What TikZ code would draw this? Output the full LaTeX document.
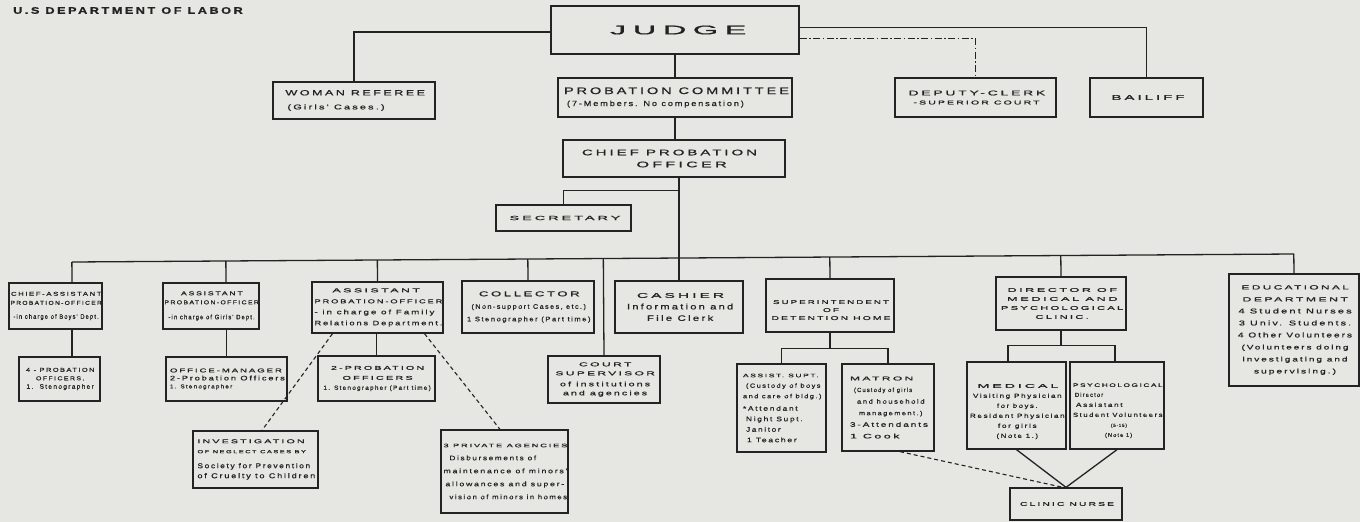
\documentclass[tikz,border=0pt]{standalone}
\usepackage{fontspec}
\setmainfont{Liberation Sans}
\newfontfamily\spf[LetterSpace=20,FakeBold=0.8]{Liberation Sans}
\usepackage{graphicx}
\usetikzlibrary{calc}
\definecolor{paper}{RGB}{230,230,227}
\definecolor{ink}{RGB}{35,35,35}
\newcommand\W[3]{\resizebox{#1pt}{\height}{\spf\fontsize{#2}{#2}\selectfont #3\kern-.2em}}
\begin{document}
\begin{tikzpicture}[x=1pt,y=-1pt,
  box/.style={draw=ink, line width=1.3pt, inner sep=0pt, text=ink, align=center},
  wh/.style n args={2}{minimum width=#1pt, minimum height=#2pt},
  lp/.style={font=\fontsize{6}{#1}\selectfont},
  conn/.style={draw=ink, line width=1.3pt},
  dsh/.style={draw=ink, line width=1.1pt, dash pattern=on 4pt off 3pt},
  dashdot/.style={dash pattern=on 7pt off 2.5pt on 1.5pt off 2.5pt}]
\fill[paper] (0,0) rectangle (1360,522);
\useasboundingbox (0,0) rectangle (1360,522);

\node[anchor=west, inner sep=0pt, text=ink] (title) at (13,10.5) {\W{227}{9.5}{\bfseries U.S DEPARTMENT OF LABOR}};

% top level
\node[box, wh={248}{48}] (judge) at (675,30) {\W{130}{12.5}{JUDGE}};
\node[box, wh={162}{37}, lp=14, align=left] (woman) at (354,100.5) {\W{137}{7.5}{WOMAN REFEREE}\\\hspace*{2pt}\W{95}{7}{(Girls' Cases.)}};
\node[box, wh={234}{39}, lp=12, align=left] (committee) at (675,97.5) {\W{222}{9.5}{PROBATION COMMITTEE}\\\hspace*{3pt}\W{175}{7.5}{(7-Members. No compensation)}};
\node[box, wh={161}{39}, lp=9] (deputy) at (975.5,97.5) {\W{134}{7}{DEPUTY-CLERK}\\\W{124}{5.5}{-SUPERIOR COURT}};
\node[box, wh={113}{39}] (bailiff) at (1146.5,97.5) {\W{70}{7}{BAILIFF}};
\node[box, wh={222}{37}, lp=12] (cpo) at (674,158.5) {\hspace*{-12pt}\W{172}{8}{CHIEF PROBATION}\\\hspace*{12pt}\W{87}{8}{OFFICER}};
\node[box, wh={135}{26}] (secretary) at (563.5,218) {\W{108}{6}{SECRETARY}};

% second level
\node[box, wh={93}{46}, lp=9] (chiefasst) at (55.5,306) {\W{89}{5.5}{CHIEF-ASSISTANT}\\\W{90}{5.5}{PROBATION-OFFICER}\\[5pt]\W{84}{6.5}{-in charge of Boys' Dept.}};
\node[box, wh={81}{44}, lp=8.5] (fourprob) at (59.5,379) {\W{67}{5.5}{4 - PROBATION}\\\W{47}{5.5}{OFFICERS.}\\\W{66}{6.5}{1.\ \ Stenographer}};
\node[box, wh={96}{46}, lp=9] (girls) at (211,306) {\W{60}{5.5}{ASSISTANT}\\\W{93}{5.5}{PROBATION-OFFICER}\\[6pt]\W{85}{6.5}{-in charge of Girls' Dept.}};
\node[box, wh={121}{44}, lp=8, align=left] (office) at (226.5,379) {\W{110}{5.5}{OFFICE-MANAGER}\\\W{113}{6.5}{2-Probation Officers}\\\W{61}{5.5}{1. Stenographer}};
\node[box, wh={131}{51}, lp=11, align=left] (family) at (377.5,307.5) {\hspace*{18pt}\W{85}{5.5}{ASSISTANT}\\\W{126}{5.5}{PROBATION-OFFICER}\\\W{118}{6.5}{- in charge of Family}\\\W{126}{6.5}{Relations Department.}};
\node[box, wh={117}{45}, lp=10] (twoprob) at (376.5,378.5) {\W{91}{5.5}{2-PROBATION}\\\W{68}{5.5}{OFFICERS}\\\W{106}{6}{1. Stenographer (Part time)}};
\node[box, wh={125}{57}, lp=10, align=left] (invest) at (255.5,459.5) {\W{105}{5.5}{INVESTIGATION}\\\W{107}{4.5}{OF NEGLECT CASES BY}\\[5pt]\W{111}{7}{Society for Prevention}\\\W{116}{7}{of Cruelty to Children}};
\node[box, wh={127}{83}, lp=13, align=left] (private) at (504.5,471.5) {\W{122}{5}{3 PRIVATE AGENCIES}\\\hspace*{6pt}\W{85}{6.5}{Disbursements of}\\\W{122}{6.5}{maintenance of minors'}\\\hspace*{2pt}\W{117}{6.5}{allowances and super-}\\\hspace*{6pt}\W{116}{6.5}{vision of minors in homes}};
\node[box, wh={132}{52}, lp=12.5] (collector) at (528,307) {\W{98}{7}{COLLECTOR}\\\W{113}{6.5}{(Non-support Cases, etc.)}\\\W{122}{6.5}{1 Stenographer (Part time)}};
\node[box, wh={112}{47}, lp=9] (court) at (604,379.5) {\W{50}{5.5}{COURT}\\\W{97}{5.5}{SUPERVISOR}\\[2pt]\W{88}{6.5}{of institutions}\\\W{82}{6.5}{and agencies}};
\node[box, wh={128}{52}, lp=11.5] (cashier) at (679,307) {\W{84}{7}{CASHIER}\\\W{104}{8}{Information and}\\\W{64}{8}{File Clerk}};
\node[box, wh={128}{53}, lp=8] (super) at (830,305.5) {\rule{0pt}{13pt}\W{114}{5.5}{SUPERINTENDENT}\\\W{14}{5.5}{OF}\\\W{117}{5.5}{DETENTION HOME}};
\node[box, wh={89}{88}, lp=10.5, align=left] (assist) at (781.5,408) {\W{74}{5}{ASSIST. SUPT.}\\\hspace*{3pt}\W{73}{6}{(Custody of boys}\\\W{77}{6}{and care of bldg.)}\\[2pt]\W{53}{6.5}{*Attendant}\\\hspace*{3pt}\W{55}{6.5}{Night Supt.}\\\hspace*{3pt}\W{33}{6.5}{Janitor}\\\hspace*{4pt}\W{48}{6.5}{1 Teacher}};
\node[box, wh={92}{87}, lp=11.6, align=left] (matron) at (888,407.5) {\W{61}{5.5}{MATRON}\\\hspace*{4pt}\W{57}{6}{(Custody of girls}\\\hspace*{7pt}\W{66}{6}{and household}\\\hspace*{9pt}\W{62}{6}{management.)}\\\W{76}{6.5}{3-Attendants}\\\W{47}{6.5}{1 Cook}};
\node[box, wh={130}{53}, lp=9] (director) at (1061,303.5) {\W{107}{5.5}{DIRECTOR OF}\\\W{108}{5.5}{MEDICAL AND}\\\W{120}{5.5}{PSYCHOLOGICAL}\\\W{51}{5.5}{CLINIC.}};
\node[box, wh={99}{87}, lp=10] (medical) at (1016.5,405.5) {\rule{0pt}{16pt}\W{78}{5.5}{MEDICAL}\\\W{87}{6}{Visiting Physician}\\\W{39}{6}{for boys.}\\\W{93}{6}{Resident Physician}\\\W{37}{6}{for girls}\\\W{40}{6}{(Note 1.)}};
\node[box, wh={94}{87}, lp=10, align=left] (psych) at (1117,405.5) {\rule{0pt}{14pt}\W{88}{5}{PSYCHOLOGICAL}\\\hspace*{2pt}\W{27}{6}{Director}\\\hspace*{3pt}\W{45}{6}{Assistant}\\\W{88}{6}{Student Volunteers}\\\hspace*{38pt}\W{15}{4.5}{(5-15)}\\\hspace*{32pt}\W{26}{5.5}{(Note 1)}};
\node[box, wh={112}{32}] (nurse) at (1066,504) {\W{92}{5.5}{CLINIC NURSE}};
\node[box, wh={130}{112}, lp=12] (educ) at (1294,330) {\W{105}{6}{EDUCATIONAL}\\\W{103}{6}{DEPARTMENT}\\\W{111}{7}{4 Student Nurses}\\\W{110}{7}{3 Univ. Students.}\\\W{112}{7}{4 Other Volunteers}\\\W{105}{6.5}{(Volunteers doing}\\\W{103}{6.5}{investigating and}\\\W{80}{6.5}{supervising.)}};

% connectors top
\draw[conn] ($(judge.west)+(0,2)$) -| (woman.north);
\draw[conn] ($(judge.east)+(0,-2.5)$) -| (bailiff.north);
\draw[conn, dashdot] ($(judge.east)+(0,8.5)$) -| (deputy.north);
\draw[conn] (judge.south) -- (committee.north);
\draw[conn] (committee.south) -- (committee.south |- cpo.north);
\draw[conn] (cpo.south -| cashier.north) -- (cashier.north);
\draw[conn] (secretary.north) |- ($(cpo.south -| cashier.north)+(0,13)$);

% bus
\coordinate (busL) at (72,262);
\coordinate (busR) at (1294,254);
\draw[conn] (busL) -- (busR);
\draw[conn] ($(busL)!([xshift=16.5pt]chiefasst.north)!(busR)$) -- ([xshift=16.5pt]chiefasst.north);
\draw[conn] ($(busL)!([xshift=15pt]girls.north)!(busR)$) -- ([xshift=15pt]girls.north);
\draw[conn] ($(busL)!(family.north)!(busR)$) -- (family.north);
\draw[conn] ($(busL)!(collector.north)!(busR)$) -- (collector.north);
\draw[conn] ($(busL)!(court.north)!(busR)$) -- (court.north);
\draw[conn] ($(busL)!(super.north)!(busR)$) -- (super.north);
\draw[conn] ($(busL)!(director.north)!(busR)$) -- (director.north);
\draw[conn] ($(busL)!(educ.north)!(busR)$) -- (educ.north);

% sub trees
\draw[conn] ([xshift=16.5pt]chiefasst.south) -- ([xshift=16.5pt]chiefasst.south |- fourprob.north);
\draw[conn] (office.north |- girls.south) -- (office.north);
\draw[conn] (twoprob.north |- family.south) -- (twoprob.north);
\draw[dsh] ([xshift=-45pt]family.south) -- ([xshift=6.5pt]invest.north);
\draw[dsh] ([xshift=47pt]family.south) -- ([xshift=-4.5pt]private.north);
\draw[conn] (super.south) -- ($(super.south)+(0,16)$);
\draw[conn] (assist.north) |- ($(super.south)+(0,16)$) -| (matron.north);
\draw[conn] (director.south) -- ($(director.south)+(0,15)$);
\draw[conn] ([xshift=-8.5pt]medical.north) |- ($(director.south)+(0,15)$) -| ([xshift=-2pt]psych.north);
\draw[conn] (medical.south) -- (nurse.north) -- (psych.south);
\draw[dsh] ([xshift=12pt]matron.south) -- ([xshift=-3pt]nurse.north);
\end{tikzpicture}
\end{document}
